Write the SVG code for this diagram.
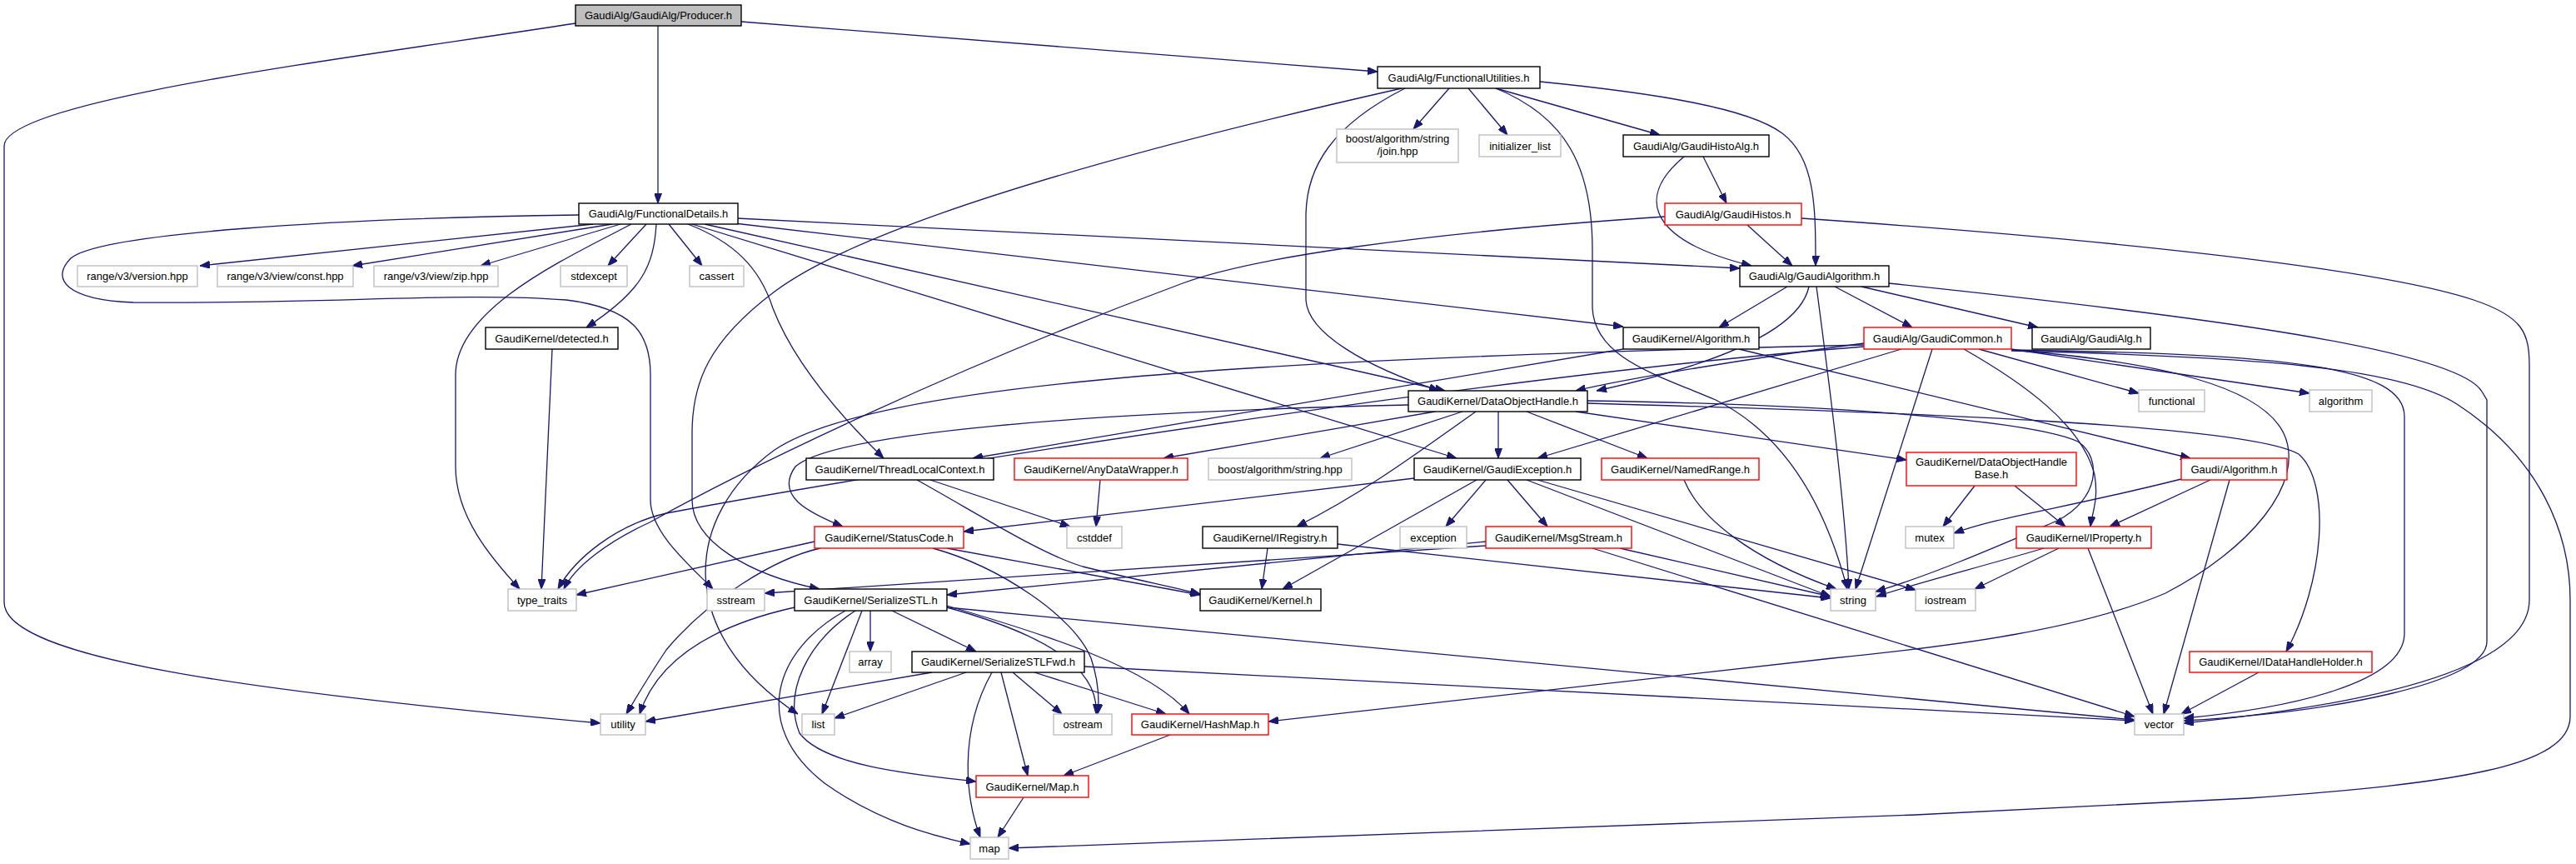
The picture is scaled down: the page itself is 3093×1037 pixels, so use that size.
<svg xmlns="http://www.w3.org/2000/svg" width="3093" height="1037" viewBox="0 0 3093 1037">
<defs>
<marker id="a" viewBox="0 0 12 9" refX="12" refY="4.5" markerWidth="12" markerHeight="9" markerUnits="userSpaceOnUse" orient="auto"><path d="M0,0 L12,4.5 L0,9 z" fill="#191970" stroke="#191970" stroke-width="1"/></marker>
<style>
.n rect{fill:#fff;stroke:#000;stroke-width:1.4}
.g rect{fill:#fff;stroke:#bfbfbf;stroke-width:1.4}
.r rect{fill:#fff;stroke:#ff0000;stroke-width:1.4}
.root rect{fill:#bfbfbf;stroke:#000;stroke-width:1.4}
text{font-family:"Liberation Sans",Arial,Helvetica,sans-serif;font-size:13px;text-anchor:middle;fill:#000}
#edges path{fill:none;stroke:#191970;stroke-width:1.3;marker-end:url(#a)}
</style>
</defs>
<rect width="3093" height="1037" fill="#fff"/>
<g id="edges">
<path d="M790,31 L790,244"/>
<path d="M890,26 L1654,86"/>
<path d="M691,28 C420,70 5,120 5,175 L5,723 C5,790 300,830 721,868"/>
<path d="M1740,106 L1697,155"/>
<path d="M1763,106 L1810,162"/>
<path d="M1796,106 L1993,162"/>
<path d="M1849,98 C1990,112 2100,130 2140,160 C2180,190 2180,250 2180,319"/>
<path d="M1796,106 C1880,140 1912,200 1912,300 L1912,370 C1915,430 1990,450 2060,480 C2140,520 2190,600 2218,707"/>
<path d="M1687,106 C1600,150 1568,200 1568,260 L1568,360 C1570,400 1640,440 1728,469"/>
<path d="M1683,106 C1400,170 1050,260 930,350 C850,410 831,460 831,520 L831,600 C831,650 900,690 984,707"/>
<path d="M712,269 L240,319"/>
<path d="M735,269 L423,319"/>
<path d="M745,269 L577,319"/>
<path d="M776,269 L730,319"/>
<path d="M803,269 L843,319"/>
<path d="M788,269 C785,320 770,350 704,393"/>
<path d="M758,269 C680,310 547,370 547,450 L547,560 C547,620 590,670 624,707"/>
<path d="M695,258 C400,262 120,280 85,310 C60,335 80,360 160,363 C400,365 550,350 680,360 C760,370 781,400 781,450 L781,600 C781,640 830,680 856,707"/>
<path d="M826,269 C880,290 912,320 928,370 C955,440 1020,510 1061,550"/>
<path d="M831,269 L1749,550"/>
<path d="M846,269 L1735,469"/>
<path d="M882,268 L1949,392"/>
<path d="M885,262 L2089,322"/>
<path d="M2045,188 L2073,244"/>
<path d="M2022,188 C1960,240 1985,290 2103,319"/>
<path d="M2098,270 L2152,319"/>
<path d="M1999,260 C1700,280 1500,310 1420,340 C1150,440 900,560 780,627 C730,650 690,680 677,707"/>
<path d="M2163,262 C2500,285 2850,320 2970,360 C3030,380 3037,400 3037,440 L3037,720 C3037,790 2900,840 2622,868"/>
<path d="M2146,344 L2064,393"/>
<path d="M2203,344 L2296,393"/>
<path d="M2235,344 L2447,393"/>
<path d="M2172,344 C2160,400 2050,440 1917,469"/>
<path d="M2181,344 C2195,450 2215,600 2220,707"/>
<path d="M2268,340 C2650,380 2950,420 2980,470 L2986,480 L2986,770 C2986,820 2800,855 2622,865"/>
<path d="M2088,419 L2630,550"/>
<path d="M1949,419 L1168,550"/>
<path d="M2238,412 C2100,430 1950,455 1892,469"/>
<path d="M2283,419 L1846,550"/>
<path d="M2320,419 L2228,707"/>
<path d="M2358,419 C2430,460 2500,510 2515,570 C2520,600 2512,615 2510,632"/>
<path d="M1906,481 C2200,485 2440,505 2495,530 C2525,550 2520,600 2470,625 C2400,655 2320,690 2252,710"/>
<path d="M2376,419 L2568,472"/>
<path d="M2415,419 L2773,472"/>
<path d="M2415,420 C2750,425 2887,440 2887,500 L2887,760 C2887,820 2750,850 2622,862"/>
<path d="M2415,421 C2700,428 2880,440 2950,485 C3050,550 3086,640 3086,720 L3086,860 C3086,920 2950,940 2700,958 L2300,978 L1211,1018"/>
<path d="M2415,420 C2600,435 2715,465 2742,520 C2770,580 2700,660 2600,712 C2500,755 2350,775 2200,790 L1523,866"/>
<path d="M2238,414 C1500,430 1050,460 930,540 C820,620 810,760 958,857"/>
<path d="M2238,416 C1800,450 1100,560 800,616 C740,630 690,670 670,707"/>
<path d="M1799,494 L1799,550"/>
<path d="M1756,494 L1585,550"/>
<path d="M1723,494 L1397,550"/>
<path d="M1772,494 C1700,545 1640,590 1557,632"/>
<path d="M1833,494 L1978,550"/>
<path d="M1892,494 L2289,552"/>
<path d="M1691,486 C1300,495 1000,520 955,560 C930,595 970,615 1012,632"/>
<path d="M1906,484 C2300,495 2700,510 2760,545 C2800,580 2790,700 2745,782"/>
<path d="M1117,576 L1285,632"/>
<path d="M1101,576 C1180,620 1250,665 1300,680 C1360,695 1410,705 1441,713"/>
<path d="M1321,576 L1316,632"/>
<path d="M1698,574 L1157,638"/>
<path d="M1773,576 L1540,707"/>
<path d="M1784,576 L1736,632"/>
<path d="M1810,576 L1858,632"/>
<path d="M1833,576 L2198,716"/>
<path d="M1846,576 L2300,708"/>
<path d="M2022,576 C2040,620 2100,670 2205,707"/>
<path d="M1522,658 L1515,707"/>
<path d="M1606,653 L2198,718"/>
<path d="M1784,650 L1137,714"/>
<path d="M1784,655 L918,712"/>
<path d="M1945,658 L2198,716"/>
<path d="M1912,658 L2563,860"/>
<path d="M978,650 L692,714"/>
<path d="M985,658 C930,670 850,720 800,780 C780,810 765,835 752,857"/>
<path d="M1137,658 L1441,714"/>
<path d="M1120,658 C1200,680 1290,740 1310,790 C1320,820 1320,840 1318,857"/>
<path d="M1045,733 L1045,782"/>
<path d="M1071,733 L1172,782"/>
<path d="M1035,733 L987,857"/>
<path d="M1027,733 C970,770 940,830 960,880 C990,920 1100,930 1172,938"/>
<path d="M1015,733 C930,780 900,870 990,940 C1060,990 1130,1005 1165,1013"/>
<path d="M954,729 C860,750 790,790 768,857"/>
<path d="M1137,729 C1250,760 1320,800 1316,857"/>
<path d="M1137,727 C1250,760 1380,800 1428,857"/>
<path d="M1137,729 L2563,864"/>
<path d="M1119,807 L775,866"/>
<path d="M1160,807 L1002,862"/>
<path d="M1191,807 C1150,880 1160,960 1177,1005"/>
<path d="M1202,807 L1234,931"/>
<path d="M1216,807 L1275,857"/>
<path d="M1242,807 L1400,857"/>
<path d="M1302,800 L2563,865"/>
<path d="M1405,882 L1277,931"/>
<path d="M1229,957 L1198,1005"/>
<path d="M663,419 L650,707"/>
<path d="M2371,583 L2333,632"/>
<path d="M2419,583 L2480,632"/>
<path d="M2619,575 C2480,610 2400,620 2346,640"/>
<path d="M2654,576 L2533,632"/>
<path d="M2677,576 L2598,857"/>
<path d="M2454,658 C2380,680 2300,700 2253,716"/>
<path d="M2472,658 L2371,707"/>
<path d="M2507,658 L2585,857"/>
<path d="M2712,807 L2619,857"/>
</g>
<g id="n-producer" class="root"><rect x="691" y="6" width="199" height="25"/><text x="790.5" y="23">GaudiAlg/GaudiAlg/Producer.h</text></g>
<g id="n-funcutil" class="n"><rect x="1654" y="80" width="195" height="26"/><text x="1751.5" y="97.5">GaudiAlg/FunctionalUtilities.h</text></g>
<g id="n-boostjoin" class="g"><rect x="1605" y="155" width="146" height="40"/><text x="1678" y="171">boost/algorithm/string</text><text x="1678" y="186">/join.hpp</text></g>
<g id="n-initlist" class="g"><rect x="1776" y="162" width="98" height="26"/><text x="1825" y="179.5">initializer_list</text></g>
<g id="n-histoalg" class="n"><rect x="1949" y="162" width="175" height="26"/><text x="2036.5" y="179.5">GaudiAlg/GaudiHistoAlg.h</text></g>
<g id="n-funcdetails" class="n"><rect x="695" y="244" width="191" height="25"/><text x="790.5" y="261">GaudiAlg/FunctionalDetails.h</text></g>
<g id="n-histos" class="r"><rect x="1999" y="244" width="164" height="26"/><text x="2081" y="261.5">GaudiAlg/GaudiHistos.h</text></g>
<g id="n-v3version" class="g"><rect x="93" y="319" width="144" height="25"/><text x="165" y="336">range/v3/version.hpp</text></g>
<g id="n-v3const" class="g"><rect x="261" y="319" width="163" height="25"/><text x="342.5" y="336">range/v3/view/const.hpp</text></g>
<g id="n-v3zip" class="g"><rect x="449" y="319" width="149" height="25"/><text x="523.5" y="336">range/v3/view/zip.hpp</text></g>
<g id="n-stdexcept" class="g"><rect x="673" y="319" width="80" height="25"/><text x="713" y="336">stdexcept</text></g>
<g id="n-cassert" class="g"><rect x="828" y="319" width="65" height="25"/><text x="860.5" y="336">cassert</text></g>
<g id="n-gaudialgorithm" class="n"><rect x="2089" y="319" width="179" height="25"/><text x="2178.5" y="336">GaudiAlg/GaudiAlgorithm.h</text></g>
<g id="n-detected" class="n"><rect x="583" y="393" width="159" height="26"/><text x="662.5" y="410.5">GaudiKernel/detected.h</text></g>
<g id="n-kalgorithm" class="n"><rect x="1949" y="393" width="163" height="26"/><text x="2030.5" y="410.5">GaudiKernel/Algorithm.h</text></g>
<g id="n-gaudicommon" class="r"><rect x="2238" y="393" width="177" height="26"/><text x="2326.5" y="410.5">GaudiAlg/GaudiCommon.h</text></g>
<g id="n-gaudialg" class="n"><rect x="2440" y="393" width="142" height="26"/><text x="2511" y="410.5">GaudiAlg/GaudiAlg.h</text></g>
<g id="n-doh" class="n"><rect x="1691" y="469" width="215" height="25"/><text x="1798.5" y="486">GaudiKernel/DataObjectHandle.h</text></g>
<g id="n-functional" class="g"><rect x="2568" y="468" width="79" height="26"/><text x="2607.5" y="485.5">functional</text></g>
<g id="n-algorithm" class="g"><rect x="2773" y="468" width="75" height="26"/><text x="2810.5" y="485.5">algorithm</text></g>
<g id="n-tlc" class="n"><rect x="968" y="550" width="225" height="26"/><text x="1080.5" y="567.5">GaudiKernel/ThreadLocalContext.h</text></g>
<g id="n-adw" class="r"><rect x="1218" y="550" width="208" height="26"/><text x="1322" y="567.5">GaudiKernel/AnyDataWrapper.h</text></g>
<g id="n-booststring" class="g"><rect x="1451" y="550" width="172" height="26"/><text x="1537" y="567.5">boost/algorithm/string.hpp</text></g>
<g id="n-gaudiexception" class="n"><rect x="1698" y="550" width="200" height="26"/><text x="1798" y="567.5">GaudiKernel/GaudiException.h</text></g>
<g id="n-namedrange" class="r"><rect x="1923" y="550" width="189" height="26"/><text x="2017.5" y="567.5">GaudiKernel/NamedRange.h</text></g>
<g id="n-dohbase" class="r"><rect x="2289" y="543" width="204" height="40"/><text x="2391" y="559">GaudiKernel/DataObjectHandle</text><text x="2391" y="574">Base.h</text></g>
<g id="n-galgorithm" class="r"><rect x="2619" y="550" width="127" height="26"/><text x="2682.5" y="567.5">Gaudi/Algorithm.h</text></g>
<g id="n-statuscode" class="r"><rect x="978" y="632" width="179" height="26"/><text x="1067.5" y="649.5">GaudiKernel/StatusCode.h</text></g>
<g id="n-cstddef" class="g"><rect x="1281" y="632" width="66" height="26"/><text x="1314" y="649.5">cstddef</text></g>
<g id="n-iregistry" class="n"><rect x="1444" y="632" width="162" height="26"/><text x="1525" y="649.5">GaudiKernel/IRegistry.h</text></g>
<g id="n-exception" class="g"><rect x="1681" y="632" width="80" height="26"/><text x="1721" y="649.5">exception</text></g>
<g id="n-msgstream" class="r"><rect x="1784" y="632" width="175" height="26"/><text x="1871.5" y="649.5">GaudiKernel/MsgStream.h</text></g>
<g id="n-mutex" class="g"><rect x="2288" y="632" width="58" height="26"/><text x="2317" y="649.5">mutex</text></g>
<g id="n-iproperty" class="r"><rect x="2421" y="632" width="162" height="26"/><text x="2502" y="649.5">GaudiKernel/IProperty.h</text></g>
<g id="n-typetraits" class="g"><rect x="610" y="707" width="82" height="26"/><text x="651" y="724.5">type_traits</text></g>
<g id="n-sstream" class="g"><rect x="849" y="707" width="69" height="26"/><text x="883.5" y="724.5">sstream</text></g>
<g id="n-serializestl" class="n"><rect x="954" y="707" width="183" height="26"/><text x="1045.5" y="724.5">GaudiKernel/SerializeSTL.h</text></g>
<g id="n-kernel" class="n"><rect x="1441" y="707" width="145" height="26"/><text x="1513.5" y="724.5">GaudiKernel/Kernel.h</text></g>
<g id="n-string" class="g"><rect x="2198" y="707" width="54" height="26"/><text x="2225" y="724.5">string</text></g>
<g id="n-iostream" class="g"><rect x="2300" y="707" width="72" height="26"/><text x="2336" y="724.5">iostream</text></g>
<g id="n-array" class="g"><rect x="1020" y="782" width="50" height="25"/><text x="1045" y="799">array</text></g>
<g id="n-serializestlfwd" class="n"><rect x="1095" y="782" width="207" height="25"/><text x="1198.5" y="799">GaudiKernel/SerializeSTLFwd.h</text></g>
<g id="n-idhh" class="r"><rect x="2629" y="782" width="219" height="25"/><text x="2738.5" y="799">GaudiKernel/IDataHandleHolder.h</text></g>
<g id="n-utility" class="g"><rect x="721" y="857" width="54" height="25"/><text x="748" y="874">utility</text></g>
<g id="n-list" class="g"><rect x="963" y="857" width="39" height="25"/><text x="982.5" y="874">list</text></g>
<g id="n-ostream" class="g"><rect x="1265" y="857" width="70" height="25"/><text x="1300" y="874">ostream</text></g>
<g id="n-hashmap" class="r"><rect x="1359" y="857" width="164" height="25"/><text x="1441" y="874">GaudiKernel/HashMap.h</text></g>
<g id="n-vector" class="g"><rect x="2563" y="857" width="59" height="25"/><text x="2592.5" y="874">vector</text></g>
<g id="n-maph" class="r"><rect x="1172" y="931" width="135" height="26"/><text x="1239.5" y="948.5">GaudiKernel/Map.h</text></g>
<g id="n-map" class="g"><rect x="1165" y="1005" width="46" height="26"/><text x="1188" y="1022.5">map</text></g>
</svg>
